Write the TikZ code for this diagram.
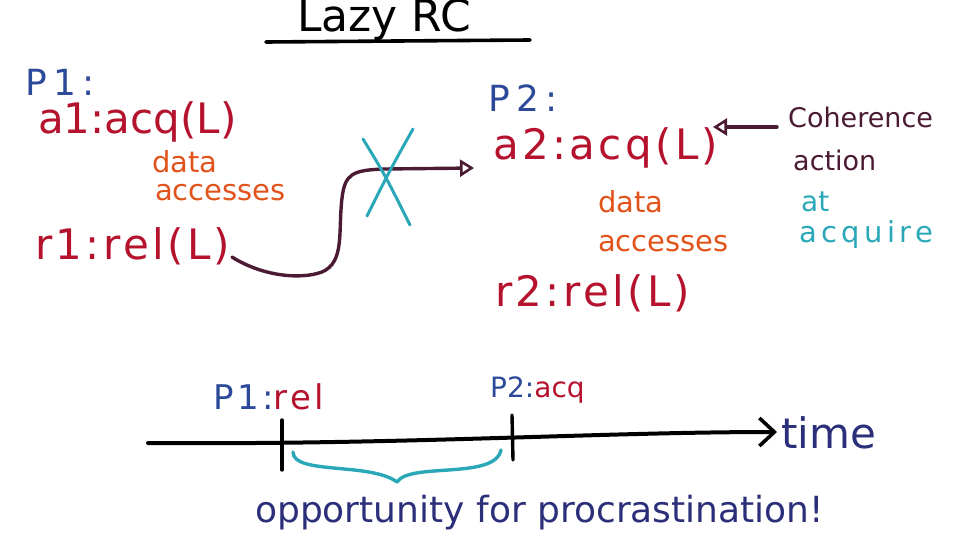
\documentclass[tikz,border=0pt]{standalone}
\usepackage{fontspec}
\setmainfont{DejaVu Sans}
\usetikzlibrary{arrows.meta}
\definecolor{pblue}{HTML}{2D4A9A}
\definecolor{pred}{HTML}{B5122E}
\definecolor{porange}{HTML}{E2531C}
\definecolor{pmaroon}{HTML}{4B1A33}
\definecolor{pcyan}{HTML}{2AA8B8}
\definecolor{pnavy}{HTML}{2B2F7A}
\newcommand{\fs}[1]{\fontsize{#1}{#1}\selectfont}
\newcommand{\lsp}[1]{\addfontfeature{LetterSpace=#1}}
\tikzset{
  lbl/.style={inner sep=0pt, anchor=west},
  proc/.style={lbl, text=pblue, font=\fs{36}\lsp{18}},
  op/.style={lbl, text=pred, font=\fs{42}},
  acc/.style={lbl, text=porange, font=\fs{29}},
  stroke/.style={line width=3.4pt, line cap=round, line join=round},
  opentip/.style={-{Triangle[open,length=14pt,width=17pt,line width=2.6pt]}},
}
\begin{document}
\begin{tikzpicture}[x=1pt,y=-1pt]
\useasboundingbox (0,0) rectangle (966,540);
% title
\node[inner sep=0pt, anchor=base west, font=\fs{44}] (title) at (297,32) {Lazy RC};
\coordinate (ul1) at (266,42);
\coordinate (ul2) at (530,40);
\draw[stroke, line width=3.6pt] (ul1) -- (ul2);
% P1
\node[proc] (p1) at (25,82) {P1:};
\node[op] (a1) at (38,122) {a1:acq(L)};
\node[acc] (d1) at (152,162) {data};
\node[acc] (e1) at (155,193) {accesses};
\node[op, font=\fs{42}\lsp{8}] (r1) at (35,246) {r1:rel(L)};
% P2
\node[proc] (p2) at (488,98) {P2:};
\node[op, font=\fs{42}\lsp{8}] (a2) at (493,148) {a2:acq(L)};
\node[acc] (d2) at (598,202) {data};
\node[acc] (e2) at (598,244) {accesses};
\node[op, font=\fs{42}\lsp{8}] (r2) at (495,293) {r2:rel(L)};
% coherence
\node[lbl, text=pmaroon, font=\fs{27}] (coh) at (788,117) {Coherence};
\node[lbl, text=pmaroon, font=\fs{27}] (act) at (793,160) {action};
\node[lbl, text=pcyan, font=\fs{28}] (at) at (801,202) {at};
\node[lbl, text=pcyan, font=\fs{29}\lsp{15}] (acq) at (799,234) {acquire};
\coordinate (cohs) at (777,127);
\coordinate (cohe) at (713,127);
\draw[stroke, pmaroon, opentip] (cohs) -- (cohe);
% S-curve from r1 to a2
\coordinate (cs) at (232,257);
\coordinate (ce) at (474,168);
\draw[stroke, pmaroon, opentip] (cs) .. controls (262,276) and (300,280) .. (322,272)
  .. controls (345,262) and (338,232) .. (342,198)
  .. controls (345,174) and (352,170) .. (385,169) -- (ce);
% cyan X
\coordinate (x1a) at (363,139);
\coordinate (x1b) at (410,225);
\coordinate (x2a) at (413,129);
\coordinate (x2b) at (367,216);
\draw[stroke, pcyan, line width=3pt] (x1a) .. controls (385,175) .. (x1b);
\draw[stroke, pcyan, line width=3pt] (x2a) .. controls (390,170) .. (x2b);
% timeline
\coordinate (t0) at (148,443);
\coordinate (t1) at (777,432);
\draw[stroke, line width=4pt, -{Straight Barb[length=15pt,width=28pt,line width=3.6pt]}] (t0) .. controls (400,445) and (600,432) .. (t1);
\node[lbl, text=pnavy, font=\fs{42}] (time) at (781,433) {time};
\coordinate (k1a) at (282,420);
\coordinate (k1b) at (282,470);
\coordinate (k2a) at (512,415);
\coordinate (k2b) at (513,460);
\draw[stroke] (k1a) -- (k1b);
\draw[stroke] (k2a) -- (k2b);
\node[lbl, font=\fs{34}\lsp{10}] (relL) at (213,397) {\textcolor{pblue}{P1:}\textcolor{pred}{rel}};
\node[lbl, font=\fs{28}] (acqL) at (490,390) {\textcolor{pblue}{P2:}\textcolor{pred}{acq}};
% brace
\coordinate (b0) at (293,452);
\coordinate (bm) at (397,482);
\coordinate (b1) at (501,450);
\draw[stroke, pcyan] (b0) .. controls (293,475) and (370,462) .. (bm)
  .. controls (410,462) and (495,480) .. (b1);
\node[lbl, text=pnavy, font=\fs{36}] (opp) at (255,513) {opportunity for procrastination!};
\end{tikzpicture}
\end{document}
